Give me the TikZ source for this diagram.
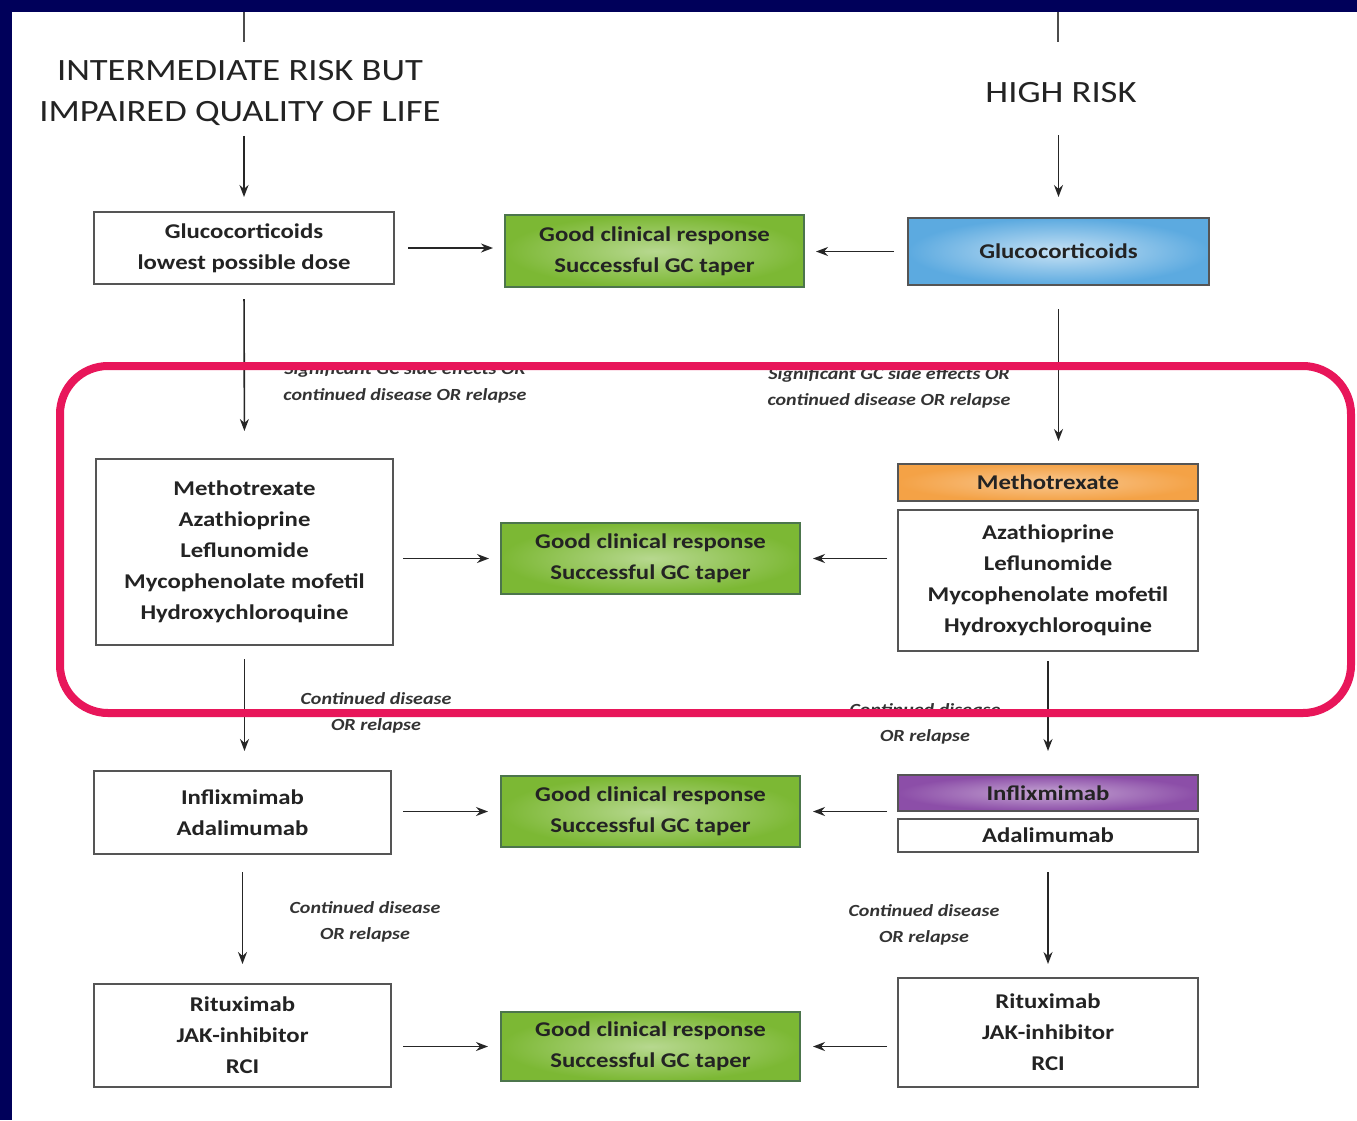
\documentclass[tikz,border=0pt]{standalone}
\usepackage{fontspec}
\setmainfont{Carlito}[FakeStretch=1.18]
\usetikzlibrary{arrows.meta}
\definecolor{navy}{RGB}{0,0,90}
\definecolor{pinkred}{RGB}{232,22,90}
\definecolor{gfill}{RGB}{124,184,52}
\definecolor{bfill}{RGB}{92,170,224}
\definecolor{ofill}{RGB}{244,162,70}
\definecolor{pfill}{RGB}{140,78,168}
\definecolor{edge}{RGB}{85,85,85}
\definecolor{txt}{RGB}{35,35,35}
\tikzset{
  box/.style={draw=edge, line width=2pt, fill=white, inner sep=0pt, align=center, text=txt,
    font=\fontsize{21}{31}\selectfont\bfseries},
  greenbox/.style={box, inner color=gfill!55!white, outer color=gfill, draw=black!60!green!40!gray},
  arr/.style={draw=black!85, line width=1.6pt, -{Stealth[length=12pt,width=9pt]}},
  plain/.style={draw=black!70, line width=1.6pt},
  lab/.style={font=\fontsize{17}{26}\selectfont\itshape\bfseries, text=black!80, align=center, inner sep=0pt},
  ttl/.style={font=\fontsize{31}{41}\selectfont, text=txt, align=center, inner sep=0pt}
}
\begin{document}
\begin{tikzpicture}[x=1pt,y=-1pt]
\useasboundingbox (0,0) rectangle (1357,1120);
\fill[white] (0,0) rectangle (1357,1120);
\fill[navy] (0,0) rectangle (1357,12);
\fill[navy] (0,0) rectangle (12,1120);

% titles
\node[ttl] (t1) at (240,93) {INTERMEDIATE RISK BUT\\IMPAIRED QUALITY OF LIFE};
\node[ttl] (t2) at (1061,93) {HIGH RISK};
\coordinate (topL) at (244,12);
\coordinate (topLb) at (244,42);
\coordinate (topR) at (1058,12);
\coordinate (topRb) at (1058,42);
\draw[plain] (topL) -- (topLb);
\draw[plain] (topR) -- (topRb);

% row 1
\node[box, minimum width=300pt, minimum height=72pt] (gcL) at (244,248) {Glucocorticoids\\lowest possible dose};
\node[greenbox, minimum width=299pt, minimum height=72pt] (g1) at (654.5,251) {Good clinical response\\Successful GC taper};
\node[box, inner color=bfill!35!white, outer color=bfill, draw=edge, minimum width=301pt, minimum height=67pt] (gcR) at (1058.5,251.5) {Glucocorticoids};

% row 2
\node[box, minimum width=297pt, minimum height=186pt] (mtxL) at (244.5,552) {Methotrexate\\Azathioprine\\Leflunomide\\Mycophenolate mofetil\\Hydroxychloroquine};
\node[greenbox, minimum width=299pt, minimum height=71pt] (g2) at (650.5,558.5) {Good clinical response\\Successful GC taper};
\node[box, inner color=ofill!60!white, outer color=ofill, minimum width=300pt, minimum height=37pt] (mtxR) at (1048,482.5) {Methotrexate};
\node[box, minimum width=300pt, minimum height=141pt] (othR) at (1048,580.5) {Azathioprine\\Leflunomide\\Mycophenolate mofetil\\Hydroxychloroquine};

% row 3
\node[box, minimum width=297pt, minimum height=83pt] (ifL) at (242.5,812.5) {Inflixmimab\\Adalimumab};
\node[greenbox, minimum width=299pt, minimum height=71pt] (g3) at (650.5,811.5) {Good clinical response\\Successful GC taper};
\node[box, inner color=pfill!50!white, outer color=pfill, minimum width=300pt, minimum height=36pt] (ifR) at (1048,793) {Inflixmimab};
\node[box, minimum width=300pt, minimum height=33pt] (adR) at (1048,835.5) {Adalimumab};

% row 4
\node[box, minimum width=297pt, minimum height=103pt] (rtL) at (242.5,1035.5) {Rituximab\\JAK-inhibitor\\RCI};
\node[greenbox, minimum width=299pt, minimum height=69pt] (g4) at (650.5,1046.5) {Good clinical response\\Successful GC taper};
\node[box, minimum width=300pt, minimum height=109pt] (rtR) at (1048,1032.5) {Rituximab\\JAK-inhibitor\\RCI};

% labels
\node[lab] (l1) at (405,383) {Significant GC side effects OR\\continued disease OR relapse};
\node[lab] (l2) at (889,388) {Significant GC side effects OR\\continued disease OR relapse};
\node[lab] (l3) at (376,713) {Continued disease\\OR relapse};
\node[lab] (l4) at (925,724) {Continued disease\\OR relapse};
\node[lab] (l5) at (365,922) {Continued disease\\OR relapse};
\node[lab] (l6) at (924,925) {Continued disease\\OR relapse};

% arrows
\draw[arr, shorten <=10pt, shorten >=14pt] (gcL.north |- t1.south) -- (gcL.north);
\draw[arr, shorten <=32pt, shorten >=20pt] (gcR.north |- t2.south) -- (gcR.north);
\draw[arr, shorten <=13pt, shorten >=11pt] (gcL.east) -- (gcL.east -| g1.west);
\draw[arr, shorten <=13pt, shorten >=11pt] (gcR.west) -- (gcR.west -| g1.east);
\draw[arr, shorten <=14pt, shorten >=27pt] (gcL.south) -- (mtxL.north);
\draw[arr, shorten <=23pt, shorten >=22pt] (gcR.south) -- (gcR.south |- mtxR.north);
\draw[arr, shorten <=9pt, shorten >=11pt] (g2.west -| mtxL.east) -- (g2.west);
\draw[arr, shorten <=10pt, shorten >=12pt] (g2.east -| othR.west) -- (g2.east);
\draw[arr, shorten <=13pt, shorten >=19pt] (mtxL.south) -- (mtxL.south |- ifL.north);
\draw[arr, shorten <=9pt, shorten >=23pt] (othR.south) -- (ifR.north);
\draw[arr, shorten <=11pt, shorten >=12pt] (g3.west -| ifL.east) -- (g3.west);
\draw[arr, shorten <=10pt, shorten >=12pt] (g3.east -| ifR.west) -- (g3.east);
\draw[arr, shorten <=17pt, shorten >=19pt] (ifL.south) -- (ifL.south |- rtL.north);
\draw[arr, shorten <=19pt, shorten >=13pt] (adR.south) -- (rtR.north);
\draw[arr, shorten <=11pt, shorten >=12pt] (g4.west -| rtL.east) -- (g4.west);
\draw[arr, shorten <=10pt, shorten >=12pt] (g4.east -| rtR.west) -- (g4.east);

% highlight frame
\draw[pinkred, line width=8pt, rounded corners=48pt] (60,366) rectangle (1351,713);
\end{tikzpicture}
\end{document}
